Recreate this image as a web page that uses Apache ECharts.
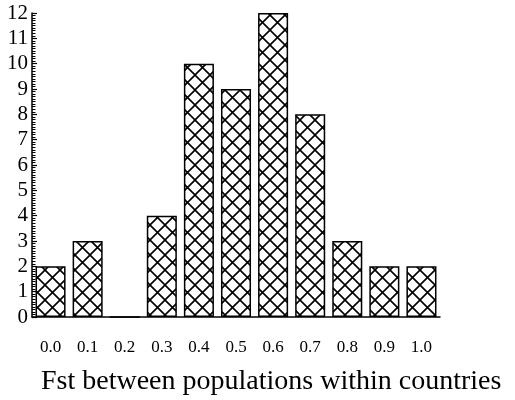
<!doctype html>
<html lang="en">
<head>
    <meta charset="UTF-8">
    <title>Fst histogram</title>
    <script src="https://cdn.jsdelivr.net/npm/echarts@6.0.0/dist/echarts.min.js"></script>
    <style>
        html, body { margin: 0; padding: 0; background: #fff; }
        #main { width: 515px; height: 400px; }
    </style>
</head>
<body>
<div id="main"></div>
<script>
    // bins of Fst and number of cases in each
    var categories = ['0.0', '0.1', '0.2', '0.3', '0.4', '0.5', '0.6', '0.7', '0.8', '0.9', '1.0'];
    var counts = [2, 3, 0, 4, 10, 9, 12, 8, 3, 2, 2];
    var yTicks = [0, 1, 2, 3, 4, 5, 6, 7, 8, 9, 10, 11, 12];

    // crosshatch fill
    function hatch() {
        var c = document.createElement('canvas');
        c.width = 15;
        c.height = 15;
        var ctx = c.getContext('2d');
        ctx.fillStyle = '#fff';
        ctx.fillRect(0, 0, 15, 15);
        ctx.strokeStyle = '#000';
        ctx.lineWidth = 1.6;
        ctx.beginPath();
        ctx.moveTo(-1, -1); ctx.lineTo(16, 16);
        ctx.moveTo(16, -1); ctx.lineTo(-1, 16);
        ctx.stroke();
        return c;
    }

    var serif = '"Liberation Serif", "DejaVu Serif", serif';
    var myChart = echarts.init(document.getElementById('main'));
    var option = {
        backgroundColor: '#fff',
        animation: false,
        title: {
            text: 'Fst between populations within countries',
            left: 36,
            top: 363,
            textStyle: {fontFamily: serif, fontSize: 28, fontWeight: 'normal', color: '#000'}
        },
        grid: {left: 32, right: 75, top: 13, bottom: 83},
        xAxis: {
            type: 'category',
            data: categories,
            axisLine: {lineStyle: {color: '#000', width: 1.5}},
            axisTick: {show: false},
            axisLabel: {fontFamily: serif, fontSize: 17, color: '#000', margin: 22}
        },
        yAxis: {
            type: 'value',
            min: yTicks[0],
            max: yTicks[yTicks.length - 1],
            interval: 1,
            axisLine: {show: true, lineStyle: {color: '#000', width: 1.5}},
            axisTick: {show: true, inside: true, length: 5, lineStyle: {color: '#000', width: 1.2}},
            minorTick: {show: true, splitNumber: 10, length: 3.5, lineStyle: {color: '#000', width: 1}},
            splitLine: {show: false},
            axisLabel: {fontFamily: serif, fontSize: 21, color: '#000', margin: 4}
        },
        series: [{
            type: 'bar',
            data: counts,
            barWidth: '81%',
            itemStyle: {
                color: {image: hatch(), repeat: 'repeat'},
                borderColor: '#000',
                borderWidth: 1.5
            }
        }]
    };
    myChart.setOption(option);
</script>
</body>
</html>
